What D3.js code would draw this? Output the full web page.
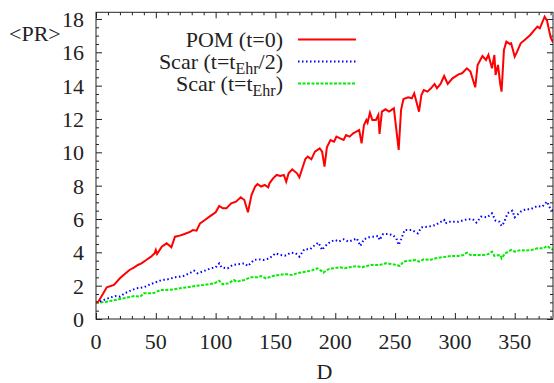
<!DOCTYPE html>
<html>
<head>
<meta charset="utf-8">
<script src="https://cdn.jsdelivr.net/npm/d3@7"></script>
<style>
  body { margin: 0; background: #fff; }
</style>
</head>
<body>
<script>
// SVG area dimensions
var svgWidth = 554;
var svgHeight = 383;
var serif = '"Liberation Serif"';

// plot frame in pixels
var margin = { top: 12.3, right: 1, bottom: 64, left: 96 };
var chartWidth = svgWidth - margin.left - margin.right;
var chartHeight = svgHeight - margin.top - margin.bottom;

// POM (t=0): [D, <PR>]
var pomData = [
  [0, 1.0], [2, 1.04], [9, 1.9], [15, 2.04], [20, 2.44], [24, 2.7], [28, 2.94], [32, 3.1],
  [35, 3.24], [38, 3.34], [42, 3.54], [46, 3.74], [49, 3.94], [50, 4.14], [51, 3.9], [55, 4.34],
  [59, 4.54], [63, 4.3], [66, 4.94], [70, 5.0], [74, 5.1], [79, 5.24], [81, 5.34], [84, 5.3],
  [87, 5.74], [91, 5.94], [96, 6.2], [100, 6.4], [103, 6.78], [106, 6.64], [109, 6.64], [113, 6.94],
  [117, 7.04], [121, 7.3], [124, 7.14], [127, 6.4], [130, 7.44], [133, 7.94], [135, 8.1], [138, 7.94],
  [141, 8.04], [144, 7.9], [145, 8.14], [148, 8.44], [151, 8.64], [154, 8.58], [157, 8.64], [159, 8.24],
  [161, 8.74], [164, 8.98], [168, 8.74], [170, 8.5], [172, 8.94], [175, 9.6], [177, 9.74], [180, 9.58],
  [183, 10.04], [187, 10.24], [189, 10.04], [191, 9.14], [193, 10.3], [196, 10.74], [199, 10.64], [201, 10.94],
  [204, 10.84], [207, 10.74], [209, 11.04], [212, 10.94], [215, 11.14], [220, 11.34], [222, 10.54], [224, 11.64],
  [226, 11.94], [227, 11.78], [229, 12.38], [231, 11.94], [234, 11.94], [236, 12.24], [237, 11.1], [239, 12.44],
  [242, 12.58], [245, 12.44], [249, 12.64], [253, 10.14], [255, 12.54], [257, 13.2], [261, 13.3], [264, 13.24],
  [266, 13.54], [270, 12.44], [272, 13.44], [274, 13.74], [277, 13.64], [280, 13.84], [283, 14.1], [285, 13.84],
  [288, 14.1], [291, 14.58], [294, 14.1], [298, 14.44], [303, 14.68], [306, 14.74], [310, 15.04], [313, 14.84],
  [317, 13.9], [319, 15.24], [323, 15.78], [326, 15.54], [328, 15.84], [331, 15.04], [333, 15.84], [334, 14.64],
  [336, 15.24], [338, 14.04], [339, 13.64], [341, 16.14], [343, 16.64], [346, 16.5], [347, 16.54], [350, 15.74],
  [352, 16.04], [355, 16.54], [359, 16.78], [363, 17.04], [366, 17.3], [369, 17.54], [371, 17.44], [375, 18.14],
  [377, 17.9], [380, 16.9], [382, 16.6]
];

// Scar (t=t_Ehr/2)
var scarHalfData = [
  [0, 1.0], [3, 1.04], [10, 1.24], [16, 1.38], [20, 1.34], [24, 1.54], [30, 1.74], [34, 1.84],
  [40, 1.9], [44, 2.04], [49, 2.18], [55, 2.34], [60, 2.38], [66, 2.5], [73, 2.58], [78, 2.74],
  [82, 2.9], [85, 2.74], [91, 2.9], [96, 3.04], [100, 3.1], [103, 3.34], [105, 3.1], [110, 3.04],
  [114, 3.24], [120, 3.3], [124, 3.34], [127, 3.18], [132, 3.54], [136, 3.58], [140, 3.54], [145, 3.64],
  [150, 3.94], [154, 3.84], [158, 3.8], [163, 3.98], [167, 3.94], [170, 3.74], [174, 4.18], [179, 4.18],
  [183, 4.44], [186, 4.58], [189, 4.14], [191, 4.34], [196, 4.64], [200, 4.74], [203, 4.64], [207, 4.78],
  [211, 4.64], [215, 4.74], [218, 4.84], [221, 4.38], [224, 4.78], [228, 4.9], [232, 4.94], [236, 4.98],
  [237, 4.74], [240, 5.1], [244, 5.1], [248, 5.04], [251, 4.84], [253, 4.44], [255, 4.78], [258, 5.34],
  [264, 5.34], [269, 5.14], [272, 5.5], [278, 5.54], [284, 5.64], [287, 5.78], [291, 5.94], [292, 5.74],
  [296, 5.84], [303, 5.84], [310, 5.98], [315, 5.98], [318, 5.78], [322, 6.14], [327, 6.1], [331, 6.34],
  [334, 5.9], [337, 5.84], [339, 5.58], [341, 5.78], [344, 6.34], [348, 6.5], [350, 6.1], [355, 6.44],
  [359, 6.58], [363, 6.58], [369, 6.78], [373, 6.74], [377, 7.04], [380, 6.58], [382, 6.5]
];

// Scar (t=t_Ehr)
var scarFullData = [
  [0, 0.98], [3, 0.98], [9, 1.04], [13, 1.1], [19, 1.18], [23, 1.24], [27, 1.3], [32, 1.38],
  [37, 1.34], [40, 1.54], [45, 1.54], [49, 1.58], [54, 1.74], [59, 1.74], [65, 1.78], [70, 1.84],
  [76, 1.9], [83, 1.98], [90, 2.04], [95, 2.1], [99, 2.14], [103, 2.3], [106, 2.08], [111, 2.14],
  [115, 2.34], [118, 2.24], [124, 2.34], [129, 2.5], [135, 2.5], [138, 2.58], [142, 2.44], [148, 2.58],
  [153, 2.64], [158, 2.7], [164, 2.64], [168, 2.74], [175, 2.84], [180, 2.9], [185, 3.04], [188, 2.9],
  [190, 2.78], [194, 2.98], [198, 3.04], [204, 3.1], [208, 3.04], [212, 3.1], [218, 3.18], [222, 3.1],
  [226, 3.18], [230, 3.24], [234, 3.24], [237, 3.24], [242, 3.34], [247, 3.3], [251, 3.24], [254, 3.18],
  [257, 3.44], [262, 3.5], [267, 3.54], [270, 3.44], [274, 3.58], [279, 3.54], [284, 3.64], [289, 3.7],
  [293, 3.74], [297, 3.78], [303, 3.78], [307, 3.84], [310, 3.98], [313, 3.84], [318, 3.84], [324, 3.84],
  [328, 3.9], [331, 4.04], [333, 3.78], [338, 3.84], [339, 3.64], [342, 3.94], [347, 4.14], [350, 4.04],
  [355, 4.14], [359, 4.1], [364, 4.14], [369, 4.24], [374, 4.24], [377, 4.38], [380, 4.24], [382, 4.14]
];

// tick values
var xTicks = [0, 50, 100, 150, 200, 250, 300, 350];
var yTicks = [0, 2, 4, 6, 8, 10, 12, 14, 16, 18];

var svg = d3.select("body")
  .append("svg")
  .attr("width", svgWidth)
  .attr("height", svgHeight);

var chartGroup = svg.append("g")
  .attr("transform", `translate(${margin.left}, ${margin.top})`);

var xScale = d3.scaleLinear().domain([0, 382]).range([0, chartWidth]);
var yScale = d3.scaleLinear().domain([0, 18.4]).range([chartHeight, 0]);

// minor ticks: every 10 on x, every 0.5 on y
var xMinor = d3.range(10, 382, 10).filter(d => d % 50 !== 0);
var yMinor = d3.range(0.5, 18.4, 0.5).filter(d => d % 2 !== 0);

// axes with inward ticks, mirrored on top and right
function addAxis(axisFn, scale, values, size, transform) {
  var g = chartGroup.append("g")
    .attr("transform", transform)
    .call(axisFn(scale).tickValues(values).tickSize(-size).tickFormat(""));
  g.select(".domain").remove();
  g.selectAll("line").attr("stroke", "#222");
}
addAxis(d3.axisBottom, xScale, xTicks, 6, `translate(0, ${chartHeight})`);
addAxis(d3.axisBottom, xScale, xMinor, 3, `translate(0, ${chartHeight})`);
addAxis(d3.axisTop, xScale, xTicks, 6, "translate(0, 0)");
addAxis(d3.axisTop, xScale, xMinor, 3, "translate(0, 0)");
addAxis(d3.axisLeft, yScale, yTicks, 6, "translate(0, 0)");
addAxis(d3.axisLeft, yScale, yMinor, 3, "translate(0, 0)");
addAxis(d3.axisRight, yScale, yTicks, 6, `translate(${chartWidth}, 0)`);
addAxis(d3.axisRight, yScale, yMinor, 3, `translate(${chartWidth}, 0)`);

// helper for serif text
function label(sel, size) {
  return sel.style("font-family", serif)
    .style("font-size", size + "px")
    .attr("fill", "#222");
}

// tick labels
label(chartGroup.selectAll(".xlab")
  .data(xTicks)
  .enter().append("text")
  .attr("x", d => xScale(d))
  .attr("y", chartHeight + 30)
  .attr("text-anchor", "middle"), 22)
  .text(d => d);

label(chartGroup.selectAll(".ylab")
  .data(yTicks)
  .enter().append("text")
  .attr("x", -12)
  .attr("y", d => yScale(d))
  .attr("dy", "0.36em")
  .attr("text-anchor", "end"), 22)
  .text(d => d);

// axis titles
label(svg.append("text")
  .attr("x", 9)
  .attr("y", 41), 22)
  .text("<PR>");

label(svg.append("text")
  .attr("x", margin.left + chartWidth / 2)
  .attr("y", 379)
  .attr("text-anchor", "middle"), 22)
  .text("D");

// line generator
var drawLine = d3.line()
  .x(d => xScale(d[0]))
  .y(d => yScale(d[1]));

var series = [
  { data: scarFullData, color: "#00ee00", dash: "3,1.5" },
  { data: scarHalfData, color: "#0000ff", dash: "1.5,2.5" },
  { data: pomData, color: "#ff0000", dash: null }
];

chartGroup.append("clipPath").attr("id", "clip")
  .append("rect").attr("width", chartWidth).attr("height", chartHeight);

series.forEach(s => {
  chartGroup.append("path")
    .attr("d", drawLine(s.data))
    .attr("clip-path", "url(#clip)")
    .attr("fill", "none")
    .attr("stroke", s.color)
    .attr("stroke-width", 2)
    .attr("stroke-dasharray", s.dash);
});

// frame
chartGroup.append("rect")
  .attr("width", chartWidth)
  .attr("height", chartHeight)
  .attr("fill", "none")
  .attr("stroke", "#222")
  .attr("stroke-width", 1);

// legend
var legendItems = [
  { label: "POM (t=0)", sub: null, tail: "", color: "#ff0000", dash: null },
  { label: "Scar (t=t", sub: "Ehr", tail: "/2)", color: "#0000ff", dash: "1.5,2.5" },
  { label: "Scar (t=t", sub: "Ehr", tail: ")", color: "#00ee00", dash: "3,1.5" }
];

legendItems.forEach((item, i) => {
  var y = 39.5 + i * 22;
  var t = label(svg.append("text")
    .attr("x", 283)
    .attr("y", y + 7)
    .attr("text-anchor", "end"), 22);
  t.append("tspan").text(item.label);
  if (item.sub) {
    t.append("tspan").attr("dy", 5).style("font-size", "16px").text(item.sub);
    t.append("tspan").attr("dy", -5).text(item.tail);
  }
  svg.append("line")
    .attr("x1", 298).attr("x2", 356)
    .attr("y1", y).attr("y2", y)
    .attr("stroke", item.color)
    .attr("stroke-width", 2)
    .attr("stroke-dasharray", item.dash);
});
</script>
</body>
</html>
